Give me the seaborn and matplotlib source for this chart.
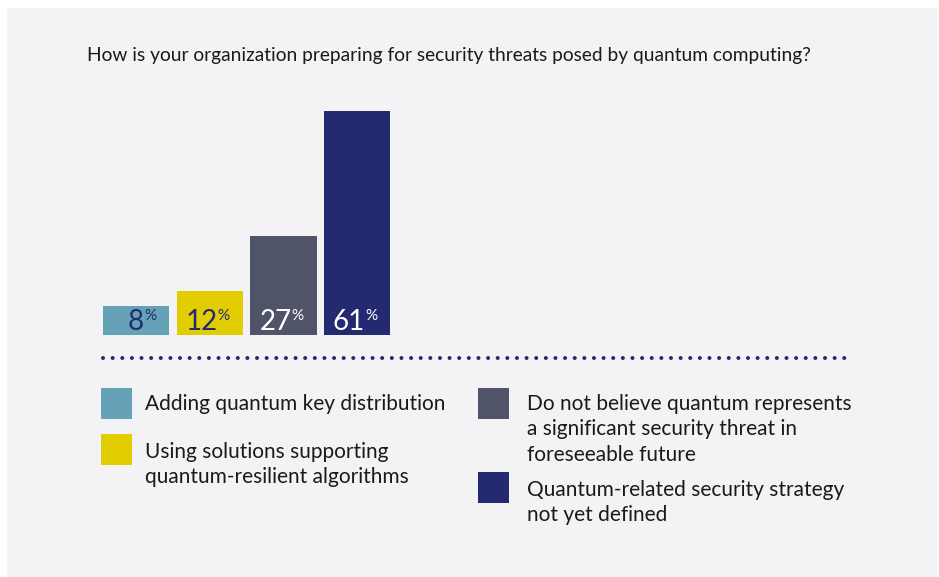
import matplotlib
matplotlib.use("Agg")
import matplotlib.pyplot as plt
from matplotlib.patches import Rectangle
from matplotlib.lines import Line2D
import seaborn as sns
import pandas as pd

# ---- data ----
categories = [
    "Adding quantum key distribution",
    "Using solutions supporting\nquantum-resilient algorithms",
    "Do not believe quantum represents\na significant security threat in\nforeseeable future",
    "Quantum-related security strategy\nnot yet defined",
]
values = [8, 12, 27, 61]
colors = ["#65a2b8", "#e1cd00", "#4f5469", "#232a72"]
label_colors = ["#232a72", "#232a72", "#ffffff", "#ffffff"]
title = "How is your organization preparing for security threats posed by quantum computing?"

W, H = 939, 577
sns.set_style("white")
plt.rcParams["font.family"] = ["Lato", "DejaVu Sans"]

fig = plt.figure(figsize=(W / 100, H / 100), dpi=100)
fig.patch.set_facecolor("white")

def px(x, y):
    return x / W, 1 - y / H

# panel background
fig.add_artist(Rectangle(px(7, 577), 930 / W, 569 / H, transform=fig.transFigure,
                         facecolor="#f3f3f6", edgecolor="none", zorder=-10))

# bars axes
left, bottom = px(99.2, 335)
ax = fig.add_axes([left, bottom, 294.8 / W, 257.6 / H])
ax.patch.set_alpha(0)
df = pd.DataFrame({"cat": categories, "val": values})
sns.barplot(data=df, x="cat", y="val", hue="cat", palette=colors, width=0.9,
            legend=False, ax=ax, saturation=1, linewidth=0)
ax.set_xlim(-0.5, 3.5)
ax.set_ylim(0, 70)
ax.axis("off")

for i, (v, lc) in enumerate(zip(values, label_colors)):
    ax.annotate(f"{v}", xy=(i, 0), xytext=(8, 5), textcoords="offset pixels",
                ha="right", va="baseline", fontsize=20, color=lc, zorder=5)
    ax.annotate("%", xy=(i, 0), xytext=(8, 26), textcoords="offset pixels",
                ha="left", va="top", fontsize=11, color=lc, zorder=5)

# title
fig.text(*px(87, 56), title, ha="left", va="center", fontsize=13.8, color="#1a1a1a")

# dotted separator
x0, y0 = px(103, 358)
x1, _ = px(848, 358)
fig.add_artist(Line2D([x0, x1], [y0, y0], transform=fig.transFigure, color="#232a72",
                      lw=2.9, linestyle=(0, (0.01, 2.38)), dash_capstyle="round", zorder=5))

# legend
legend_pos = [(101, 388, 145, 406), (101, 434, 145, 454), (478, 388, 527, 406), (478, 472, 527, 492)]
for (bx, by, tx, ty), c, lab in zip(legend_pos, colors, categories):
    fig.add_artist(Rectangle(px(bx, by + 31), 31 / W, 31 / H, transform=fig.transFigure,
                             facecolor=c, edgecolor="none", zorder=5))
    fig.text(*px(tx, ty - 12), lab, ha="left", va="top", fontsize=15, color="#1a1a1a",
             linespacing=1.33, zorder=6)

fig.savefig("out.png", dpi=100)
